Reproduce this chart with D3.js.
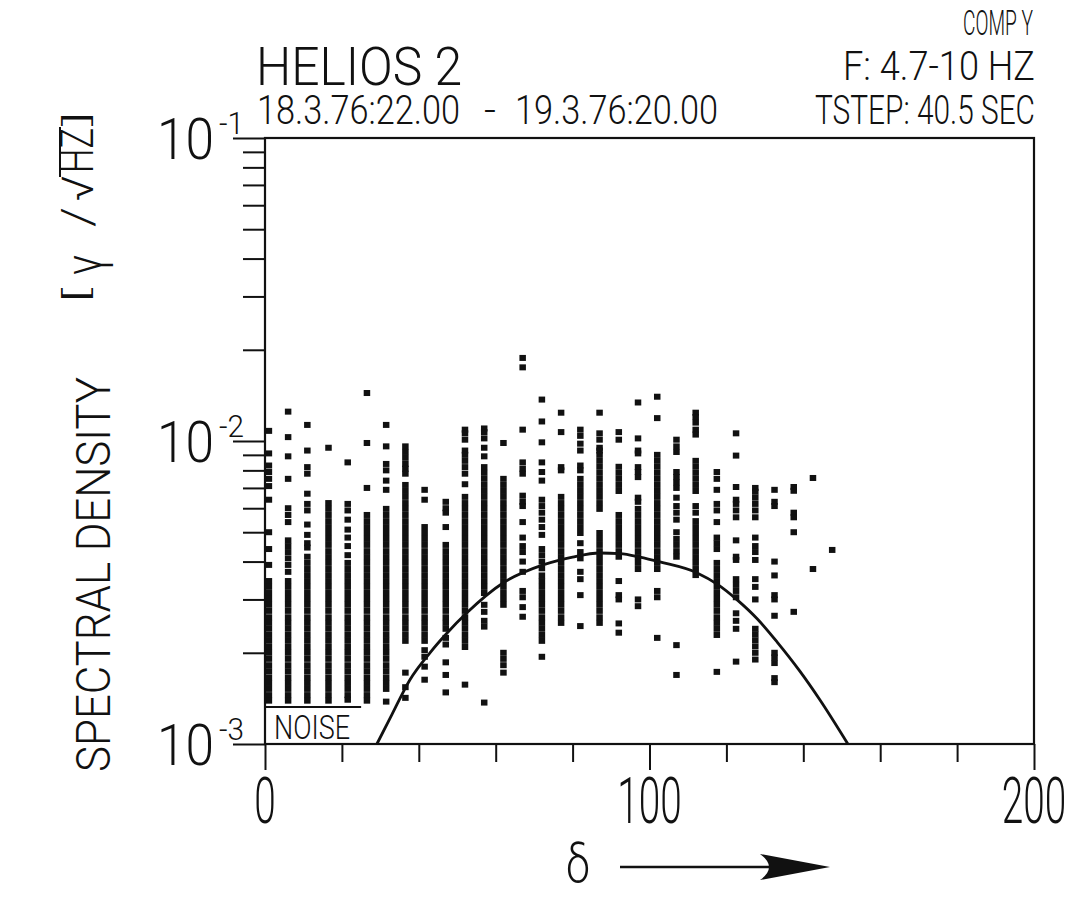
<!DOCTYPE html>
<html>
<head>
<meta charset="utf-8">
<script src="https://cdn.jsdelivr.net/npm/d3@7"></script>
<style>
body { margin: 0; background: #fff; }
text { font-family: "Roboto", "DejaVu Sans", sans-serif; font-weight: 300; fill: #111; }
</style>
</head>
<body>
<div class="chart"></div>
<script>
var width = 1090;
var height = 916;
var margin = {top: 138, left: 265, right: 56, bottom: 172};

// delta of each column of points
var columnDeltas = [1, 6, 11, 16.5, 21.5, 26.5, 31.5, 36.5, 41.5, 47, 52, 57, 62, 67, 72,
    77, 82, 87, 92, 97, 102, 107, 112, 117.5, 122.5, 127.5, 132.5, 137.5, 142.5, 147.5];

// spectral density of every point, per column, in units of 1e-3 gamma/sqrt(Hz)
var columnValues = [
    [10.8, 9.1, 8.3, 7.9, 7.5, 7.1, 6.4, 5.0, 4.4, 3.9, 3.45, 3.30, 3.15, 3.01, 2.88, 2.75, 2.62, 2.51, 2.40, 2.29, 2.19, 2.09, 2.00, 1.91, 1.82, 1.74, 1.66, 1.59, 1.52, 1.45, 1.39],
    [12.5, 10.3, 8.9, 7.5, 6.0, 5.7, 5.4, 4.7, 4.5, 4.3, 4.1, 3.9, 3.7, 3.45, 3.30, 3.15, 3.01, 2.88, 2.75, 2.62, 2.51, 2.40, 2.29, 2.19, 2.09, 2.00, 1.91, 1.82, 1.74, 1.66, 1.59, 1.52, 1.45, 1.39],
    [11.3, 9.3, 8.2, 7.8, 6.7, 6.2, 5.9, 5.3, 4.9, 4.6, 4.45, 4.15, 3.96, 3.78, 3.61, 3.45, 3.30, 3.15, 3.01, 2.88, 2.75, 2.62, 2.51, 2.40, 2.29, 2.19, 2.09, 2.00, 1.91, 1.82, 1.74, 1.66, 1.59, 1.52, 1.45, 1.39],
    [9.5, 6.24, 5.97, 5.70, 5.44, 5.20, 4.97, 4.75, 4.54, 4.33, 4.14, 3.96, 3.78, 3.61, 3.45, 3.30, 3.15, 3.01, 2.88, 2.75, 2.62, 2.51, 2.40, 2.29, 2.19, 2.09, 2.00, 1.91, 1.82, 1.74, 1.66, 1.59, 1.52, 1.45, 1.39],
    [8.5, 6.2, 5.9, 5.5, 5.1, 4.8, 4.5, 4.2, 3.96, 3.78, 3.61, 3.45, 3.30, 3.15, 3.01, 2.88, 2.75, 2.62, 2.51, 2.40, 2.29, 2.19, 2.09, 2.00, 1.91, 1.82, 1.74, 1.66, 1.59, 1.52, 1.45, 1.40],
    [14.4, 9.85, 7.0, 5.70, 5.44, 5.20, 4.97, 4.75, 4.54, 4.33, 4.14, 3.96, 3.78, 3.61, 3.45, 3.30, 3.15, 3.01, 2.88, 2.75, 2.62, 2.51, 2.40, 2.29, 2.19, 2.09, 2.00, 1.91, 1.82, 1.74, 1.66, 1.59, 1.52, 1.45, 1.39],
    [11.3, 9.6, 8.4, 8.0, 7.4, 6.9, 5.97, 5.70, 5.44, 5.20, 4.97, 4.75, 4.54, 4.33, 4.14, 3.96, 3.78, 3.61, 3.45, 3.30, 3.15, 3.01, 2.88, 2.75, 2.62, 2.51, 2.40, 2.29, 2.19, 2.09, 2.00, 1.91, 1.82, 1.74, 1.66, 1.59, 1.52, 1.38],
    [9.6, 9.2, 8.8, 8.4, 8.1, 7.8, 7.16, 6.84, 6.54, 6.24, 5.97, 5.70, 5.44, 5.20, 4.97, 4.75, 4.54, 4.33, 4.14, 3.96, 3.78, 3.61, 3.45, 3.30, 3.15, 3.01, 2.88, 2.75, 2.62, 2.51, 2.40, 2.29, 2.19, 1.72, 1.54, 1.42],
    [6.9, 6.4, 5.20, 4.97, 4.75, 4.54, 4.33, 4.14, 3.96, 3.78, 3.61, 3.45, 3.30, 3.15, 3.01, 2.88, 2.75, 2.62, 2.51, 2.40, 2.29, 2.19, 2.04, 1.94, 1.80, 1.63],
    [6.3, 6.0, 5.8, 5.2, 4.54, 4.33, 4.14, 3.96, 3.78, 3.61, 3.45, 3.30, 3.15, 3.01, 2.88, 2.75, 2.62, 2.51, 2.40, 2.24, 2.13, 1.86, 1.69, 1.48],
    [10.9, 10.6, 10.1, 9.3, 9.0, 8.6, 8.2, 7.8, 7.2, 6.54, 6.24, 5.97, 5.70, 5.44, 5.20, 4.97, 4.75, 4.54, 4.33, 4.14, 3.96, 3.78, 3.61, 3.45, 3.30, 3.15, 3.01, 2.88, 2.75, 2.62, 2.51, 2.40, 2.29, 2.19, 2.09, 1.57],
    [11.0, 10.7, 10.2, 9.5, 8.9, 8.2, 7.85, 7.50, 7.16, 6.84, 6.54, 6.24, 5.97, 5.70, 5.44, 5.20, 4.97, 4.75, 4.54, 4.33, 4.14, 3.96, 3.78, 3.61, 3.45, 3.30, 3.15, 2.88, 2.73, 2.55, 2.44, 1.37],
    [9.85, 7.50, 7.16, 6.84, 6.54, 6.24, 5.97, 5.70, 5.44, 5.20, 4.97, 4.75, 4.54, 4.33, 4.14, 3.96, 3.78, 3.61, 3.45, 3.30, 3.15, 3.01, 2.88, 2.00, 1.91, 1.82, 1.72],
    [18.8, 17.5, 10.9, 8.5, 8.1, 7.8, 6.6, 6.3, 6.1, 5.4, 4.8, 4.5, 4.3, 4.0, 3.7, 3.2, 3.05, 2.83, 2.63],
    [13.7, 11.6, 9.9, 8.5, 7.9, 7.4, 6.4, 6.1, 5.8, 5.5, 5.2, 4.9, 4.4, 4.2, 4.0, 3.8, 3.6, 3.45, 3.30, 3.15, 3.01, 2.88, 2.75, 2.62, 2.51, 2.40, 2.29, 2.19, 1.94],
    [12.4, 10.7, 8.2, 8.0, 6.54, 6.24, 5.97, 5.70, 5.44, 5.20, 4.97, 4.75, 4.54, 4.33, 4.14, 3.96, 3.78, 3.61, 3.45, 3.30, 3.15, 3.01, 2.88, 2.75, 2.62, 2.51],
    [10.9, 10.4, 9.8, 9.3, 8.3, 8.0, 7.50, 7.16, 6.84, 6.54, 6.24, 5.97, 5.70, 5.44, 5.20, 4.97, 4.6, 4.3, 4.1, 3.7, 3.5, 3.1, 2.45],
    [12.4, 10.6, 10.1, 9.5, 9.3, 9.00, 8.60, 8.22, 7.85, 7.50, 7.16, 6.84, 6.54, 6.24, 5.97, 4.97, 4.75, 4.54, 4.33, 4.14, 3.96, 3.78, 3.61, 3.45, 3.30, 3.15, 3.01, 2.88, 2.75, 2.62, 2.51],
    [10.7, 10.1, 8.22, 7.85, 7.50, 7.16, 6.84, 5.70, 5.44, 5.20, 4.97, 4.75, 4.54, 4.33, 4.15, 3.45, 3.1, 3.0, 2.5, 2.33],
    [13.4, 10.2, 9.3, 9.1, 8.2, 7.9, 7.6, 6.5, 6.3, 5.97, 5.70, 5.44, 5.20, 4.97, 4.75, 4.54, 4.33, 4.14, 3.96, 3.78, 3.0, 2.85],
    [14.0, 11.9, 9.00, 8.60, 8.22, 7.85, 7.50, 7.16, 6.84, 6.54, 6.24, 5.97, 5.70, 5.44, 5.20, 4.97, 4.75, 4.54, 4.33, 4.14, 3.96, 3.78, 3.2, 3.05, 2.24],
    [10.1, 9.6, 9.2, 7.9, 7.6, 7.3, 7.0, 6.5, 6.1, 5.8, 5.5, 5.0, 4.75, 4.54, 4.33, 4.15, 2.12, 1.69],
    [12.4, 12.0, 11.5, 10.9, 10.5, 8.60, 8.22, 7.85, 7.50, 7.16, 6.84, 6.1, 5.8, 5.44, 5.20, 4.97, 4.75, 4.54, 4.33, 4.14, 3.96, 3.78, 3.61],
    [7.9, 7.5, 6.9, 6.2, 5.9, 5.4, 4.8, 4.6, 4.4, 3.96, 3.78, 3.61, 3.45, 3.30, 3.15, 3.01, 2.88, 2.75, 2.62, 2.51, 2.40, 2.29, 1.73],
    [10.6, 8.95, 7.05, 6.4, 6.2, 5.9, 5.6, 4.7, 4.15, 4.05, 3.5, 3.35, 3.2, 3.05, 2.7, 2.55, 2.4, 1.87],
    [7.0, 6.8, 6.5, 6.2, 5.9, 5.6, 4.8, 4.5, 4.3, 4.05, 3.5, 3.3, 3.0, 2.4, 2.3, 2.2, 2.1, 2.0, 1.9],
    [6.9, 6.3, 6.1, 4.0, 3.6, 3.1, 3.0, 2.65, 2.0, 1.93, 1.85, 1.65, 1.6],
    [7.05, 6.85, 5.8, 5.6, 5.0, 2.73],
    [7.55, 3.78],
    [4.37]
];

// model curve: delta and density in 1e-3 units
var curveDeltas = [29.1, 33, 37.7, 42.9, 47.3, 52.5, 61.9, 72.3, 80, 87.1, 92.3, 97.5, 102.7, 112.4, 117.6, 122.8, 128, 133.2, 139.1, 144.3, 151.6];
var curveValues = [1.0, 1.25, 1.63, 2.0, 2.32, 2.71, 3.40, 3.90, 4.14, 4.27, 4.25, 4.14, 3.99, 3.67, 3.37, 2.99, 2.59, 2.17, 1.74, 1.40, 1.0];

var noiseLevel = 1.325;      // 1e-3 units
var noiseDeltas = [0, 25];

var xMajorTicks = [0, 100, 200];
var xMinorTicks = [20, 40, 60, 80, 120, 140, 160, 180];
var yDecades = [1e-3, 1e-2, 1e-1];
var yDecadeLabels = ["-3", "-2", "-1"];
var yMinorSteps = [2, 3, 4, 5, 6, 7, 8, 9];

var UNIT = 1e-3;

var svg = d3.select(".chart")
    .append("svg")
    .attr("width", width)
    .attr("height", height);

var xScale = d3.scaleLinear()
    .domain([0, 200])
    .range([margin.left, width - margin.right]);

var yScale = d3.scaleLog()
    .domain([1e-3, 1e-1])
    .range([height - margin.bottom, margin.top]);

var x0 = xScale(0), x1 = xScale(200), yBot = yScale(1e-3), yTop = yScale(1e-1);

// minor ticks of the two decades
var yMinor = [];
yDecades.slice(0, 2).forEach(function(d) {
    yMinorSteps.forEach(function(s) { yMinor.push(d * s); });
});

function styleAxis(g) {
    g.select(".domain").remove();
    g.selectAll("line").attr("stroke", "#111").attr("stroke-width", 2);
    g.selectAll("text").remove();
}

svg.append("g")
    .attr("transform", `translate(${x0},0)`)
    .call(d3.axisLeft(yScale).tickValues(yMinor).tickSize(22).tickFormat(""))
    .call(styleAxis);
svg.append("g")
    .attr("transform", `translate(${x0},0)`)
    .call(d3.axisLeft(yScale).tickValues(yDecades).tickSize(32).tickFormat(""))
    .call(styleAxis);

svg.append("g")
    .attr("transform", `translate(0,${yBot})`)
    .call(d3.axisBottom(xScale).tickValues(xMinorTicks).tickSize(18).tickFormat(""))
    .call(styleAxis);
svg.append("g")
    .attr("transform", `translate(0,${yBot})`)
    .call(d3.axisBottom(xScale).tickValues(xMajorTicks).tickSize(26).tickFormat(""))
    .call(styleAxis);

// frame
svg.append("rect")
    .attr("x", x0).attr("y", yTop)
    .attr("width", x1 - x0).attr("height", yBot - yTop)
    .attr("fill", "none").attr("stroke", "#111").attr("stroke-width", 2.2);

function addText(x, y, str, size, len, anchor) {
    var t = svg.append("text")
        .attr("x", x).attr("y", y)
        .attr("font-size", size)
        .attr("text-anchor", anchor || "start")
        .text(str);
    if (len) t.attr("textLength", len).attr("lengthAdjust", "spacingAndGlyphs");
    return t;
}

// y tick labels
yDecades.forEach(function(d, i) {
    var y = yScale(d);
    addText(157, y + 21, "10", 58, 57);
    addText(219, y - 4, yDecadeLabels[i], 32, 25);
});

// x tick labels
xMajorTicks.forEach(function(d) {
    addText(xScale(d), 823, String(d), 64, String(d).length * 21.5, "middle");
});

// points
var points = [];
columnDeltas.forEach(function(delta, i) {
    columnValues[i].forEach(function(v) {
        points.push({delta: delta, value: v * UNIT});
    });
});

svg.selectAll("rect.pt")
    .data(points)
    .enter()
    .append("rect")
    .attr("class", "pt")
    .attr("x", function(d) { return xScale(d.delta) - 3.2; })
    .attr("y", function(d) { return yScale(d.value) - 3; })
    .attr("width", 6.5)
    .attr("height", 6)
    .attr("fill", "#111");

// model curve
var curvePoints = curveDeltas.map(function(d, i) { return [d, curveValues[i] * UNIT]; });
svg.append("path")
    .datum(curvePoints)
    .attr("fill", "none")
    .attr("stroke", "#111")
    .attr("stroke-width", 2.8)
    .attr("d", d3.line()
        .x(function(d) { return xScale(d[0]); })
        .y(function(d) { return yScale(d[1]); })
        .curve(d3.curveMonotoneX));

// noise level
svg.append("line")
    .attr("x1", xScale(noiseDeltas[0])).attr("x2", xScale(noiseDeltas[1]))
    .attr("y1", yScale(noiseLevel * UNIT)).attr("y2", yScale(noiseLevel * UNIT))
    .attr("stroke", "#111").attr("stroke-width", 2);
addText(274, 739, "NOISE", 34, 76);

// titles
addText(256, 85, "HELIOS 2", 54, 206);
addText(257, 124, "18.3.76:22.00", 40, 203);
addText(484, 124, "-", 40, 12);
addText(515, 124, "19.3.76:20.00", 40, 203);
addText(1033, 35, "COMP Y", 35, 70, "end");
addText(1035, 80, "F: 4.7-10 HZ", 40, 192, "end");
addText(1035, 124, "TSTEP: 40.5 SEC", 40, 220, "end");

// x label with arrow
addText(578, 882, "δ", 54, 24, "middle");
svg.append("line")
    .attr("x1", 620).attr("x2", 790)
    .attr("y1", 867).attr("y2", 867)
    .attr("stroke", "#111").attr("stroke-width", 2.5);
svg.append("path")
    .attr("d", "M830,867 L760,854 Q778,867 760,880 Z")
    .attr("fill", "#111");

// y label, rotated; local y is the shift from the baseline at screen x = 110
var yLab = svg.append("g").attr("transform", "translate(110,772) rotate(-90)");
function labPart(x, y, str, size, len) {
    return yLab.append("text").attr("x", x).attr("y", y)
        .attr("font-size", size)
        .attr("textLength", len).attr("lengthAdjust", "spacingAndGlyphs")
        .text(str);
}
labPart(0, 0, "SPECTRAL DENSITY", 48, 395);
labPart(469, -22, "[", 33, 15);
labPart(497, -8, "γ", 54, 20);
labPart(545, -17, "/", 44, 20);
labPart(571, -17, "√", 44, 26);
labPart(599, -17, "HZ", 46, 45);
labPart(646, -22, "]", 33, 15);
yLab.append("line")
    .attr("x1", 595).attr("x2", 645)
    .attr("y1", -50).attr("y2", -50)
    .attr("stroke", "#111").attr("stroke-width", 2);
</script>
</body>
</html>
